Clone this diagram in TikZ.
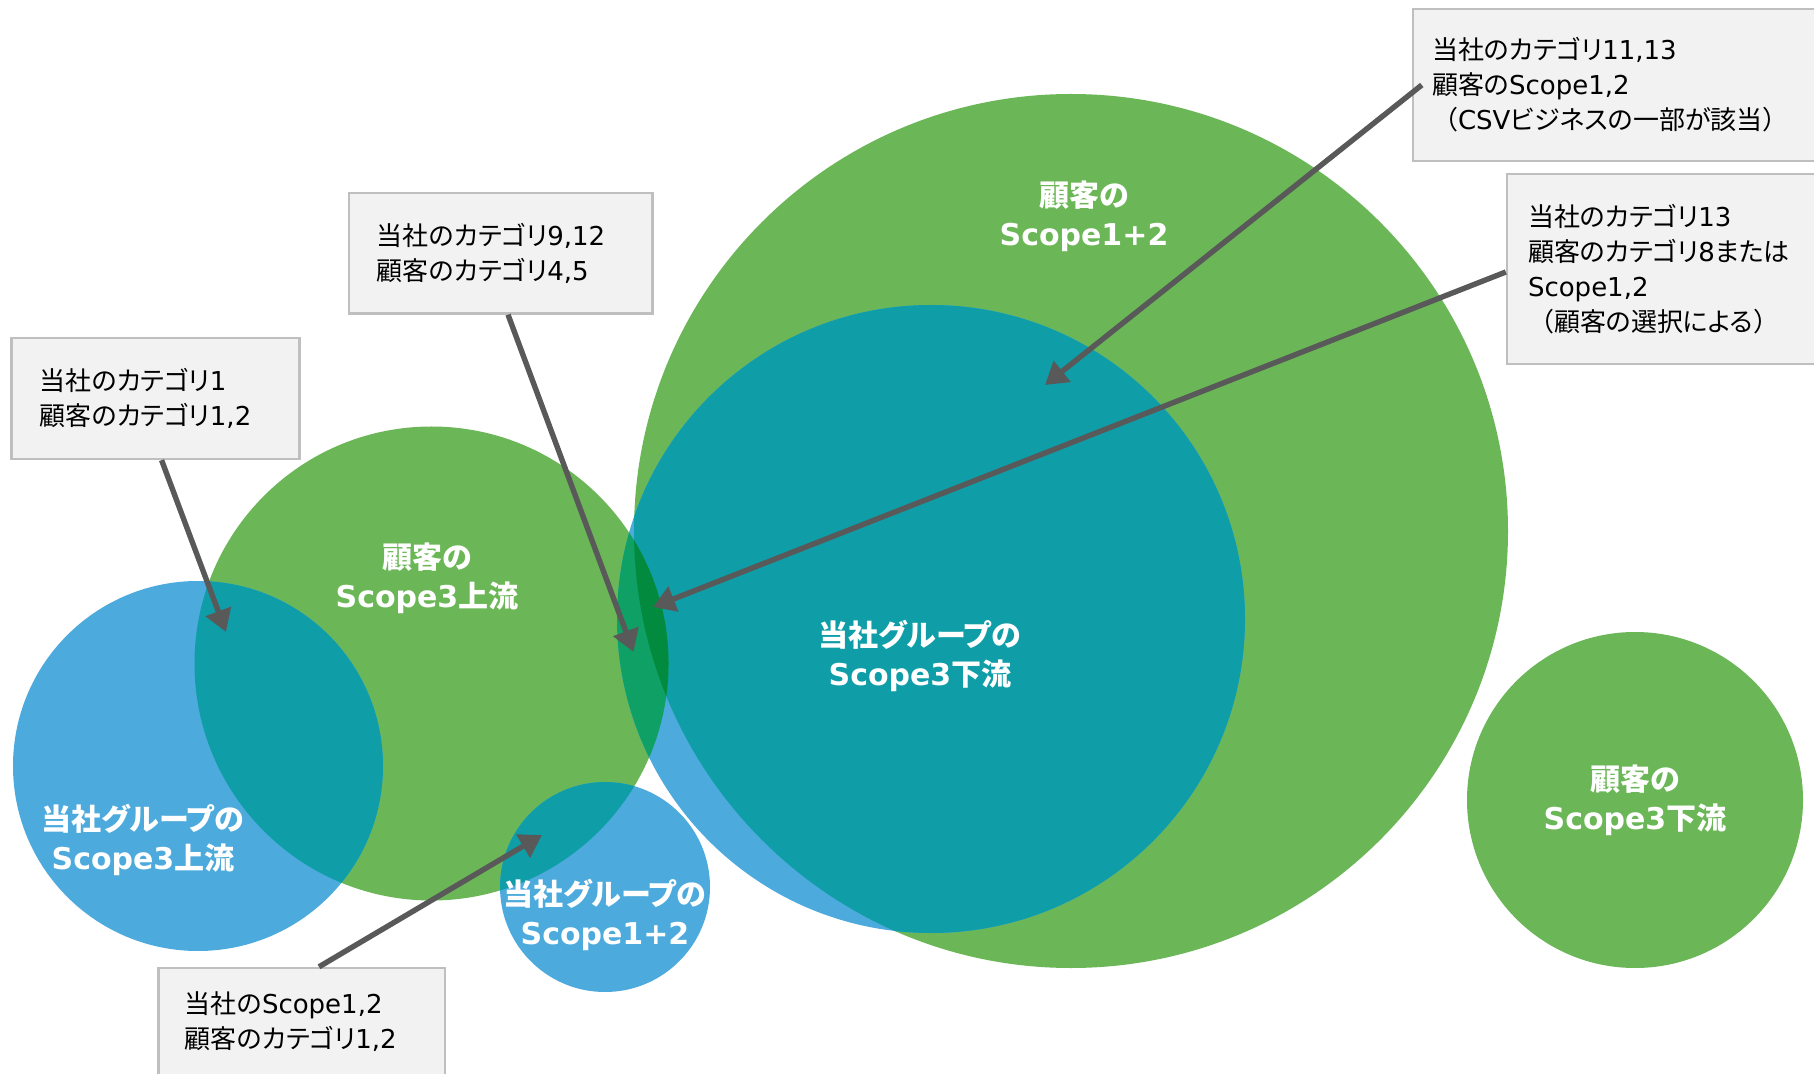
\documentclass[tikz,border=0pt]{standalone}
\usepackage{fontspec}
\setmainfont{DejaVu Sans}
\newfontfamily\jpf{Noto Sans CJK JP}[RawFeature={+palt}]
\newfontfamily\jpw{Noto Sans CJK JP}
\newcommand\J[1]{{\jpf #1}}
\newcommand\JW[1]{{\jpw #1}}
\usetikzlibrary{arrows.meta}
\definecolor{cgreen}{HTML}{6BB757}
\definecolor{cblue}{HTML}{4DAADC}
\definecolor{cteal}{HTML}{0F9DA8}
\definecolor{cseag}{HTML}{0FA065}
\definecolor{cdkg}{HTML}{028B3E}
\definecolor{cbox}{HTML}{F2F2F2}
\definecolor{cboxline}{HTML}{BFBFBF}
\definecolor{carrow}{HTML}{595959}
\begin{document}
\begin{tikzpicture}[x=0.5pt,y=-0.5pt,
  lbl/.style={text=white, font=\fontsize{15}{19.5}\selectfont\bfseries, align=center, inner sep=0pt},
  box/.style={draw=cboxline, line width=1.2pt, fill=cbox, font=\fontsize{13}{17.5}\selectfont, align=left, inner ysep=0pt, text=black},
  arr/.style={draw=carrow, line width=2.7pt, -{Triangle[length=11pt,width=13pt]}}]
\useasboundingbox (0,0) rectangle (1814,1074);
\fill[white] (0,0) rectangle (1814,1074);
\clip (0,0) rectangle (1814,1074);
% circle centres
\coordinate (cG) at (1071,531);
\coordinate (cB) at (931,619);
\coordinate (cS) at (431.5,663.5);
\coordinate (cL) at (198,766);
\coordinate (cP) at (605,887);
\coordinate (cR) at (1635,800);
% green circles
\fill[cgreen] (cG) circle[radius=437];
\fill[cgreen] (cS) circle[radius=237];
\fill[cgreen] (cR) circle[radius=168];
% blue circles
\fill[cblue] (cB) circle[radius=314];
\fill[cblue] (cL) circle[radius=185];
\fill[cblue] (cP) circle[radius=105];
% overlaps
\begin{scope}
  \clip (cB) circle[radius=314];
  \fill[cteal] (cG) circle[radius=437];
  \fill[cseag] (cS) circle[radius=237];
  \clip (cG) circle[radius=437];
  \fill[cdkg] (cS) circle[radius=237];
\end{scope}
\begin{scope}
  \clip (cL) circle[radius=185];
  \fill[cteal] (cS) circle[radius=237];
\end{scope}
\begin{scope}
  \clip (cP) circle[radius=105];
  \fill[cteal] (cS) circle[radius=237];
\end{scope}
% labels
\node[lbl] (lG) at (1084,216) {\J{顧客の}\\Scope1+2};
\node[lbl] (lB) at (920,656) {\J{当社グループの}\\Scope3\J{下流}};
\node[lbl] (lS) at (427,578) {\J{顧客の}\\Scope3\J{上流}};
\node[lbl] (lL) at (143,840) {\J{当社グループの}\\Scope3\J{上流}};
\node[lbl] (lP) at (605,915) {\J{当社グループの}\\Scope1+2};
\node[lbl] (lR) at (1635,800) {\J{顧客の}\\Scope3\J{下流}};
% boxes
\node[box, text width=116pt, inner xsep=14pt, minimum height=60.5pt] (b1) at (155.6,398.5)
  {\J{当社のカテゴリ}1\\\J{顧客のカテゴリ}1,2};
\node[box, text width=123.75pt, inner xsep=14pt, minimum height=60.25pt] (b2) at (500.7,253.2)
  {\J{当社のカテゴリ}9,12\\\J{顧客のカテゴリ}4,5};
\node[box, text width=191pt, inner xsep=9.5pt, minimum height=76pt] (b3) at (1623,85)
  {\J{当社のカテゴリ}11,13\\\J{顧客の}Scope1,2\\\JW{（}CSV\J{ビジネスの一部が該当}\JW{）}};
\node[box, text width=142pt, inner xsep=10.5pt, minimum height=95pt] (b4) at (1670,269)
  {\J{当社のカテゴリ}13\\\J{顧客のカテゴリ}8\J{または}\\Scope1,2\\\JW{（}\J{顧客の選択による}\JW{）}};
\node[box, text width=116.75pt, inner xsep=13.25pt, minimum height=54pt] (b5) at (301.7,1022)
  {\J{当社の}Scope1,2\\\J{顧客のカテゴリ}1,2};
% arrow tips
\coordinate (t1) at (226,632);
\coordinate (t2) at (633.5,652);
\coordinate (t3) at (1045,385);
\coordinate (t4) at (653,607);
\coordinate (t5) at (542,835);
\draw[arr] ([xshift=3pt]b1.south) -- (t1);
\draw[arr] ([xshift=3.65pt]b2.south) -- (t2);
\draw[arr] ([xshift=5pt]b3.west) -- (t3);
\draw[arr] ([yshift=-1.5pt]b4.west) -- (t4);
\draw[arr] ([xshift=8.65pt]b5.north) -- (t5);
\end{tikzpicture}
\end{document}
